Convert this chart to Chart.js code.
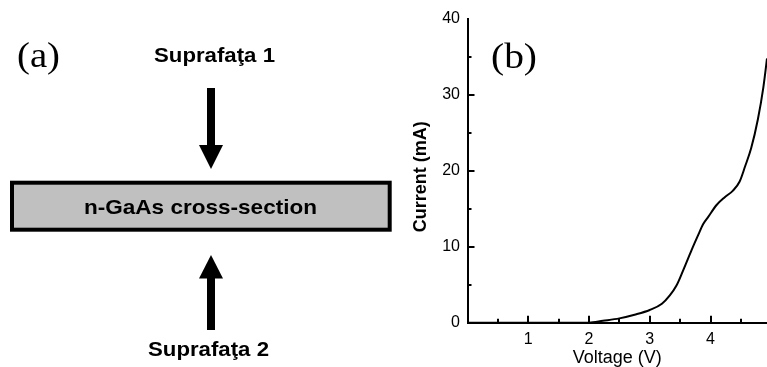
<!DOCTYPE html>
<html>
<head>
<meta charset="utf-8">
<script src="https://cdn.jsdelivr.net/npm/chart.js@4/dist/chart.umd.min.js"></script>
<style>
html,body{margin:0;padding:0;background:#fff;}
#wrap{position:relative;width:767px;height:367px;overflow:hidden;background:#fff;}
#chart{position:absolute;left:400px;top:0;}
#diagram{position:absolute;left:0;top:0;}
</style>
</head>
<body>
<div id="wrap">
  <canvas id="chart" width="367" height="367"></canvas>
  <svg id="diagram" width="767" height="367" xmlns="http://www.w3.org/2000/svg">
    <text x="17" y="67" font-family="Liberation Serif, Times New Roman, serif" font-size="36" fill="#000" textLength="43" lengthAdjust="spacingAndGlyphs">(a)</text>
    <text x="491" y="68" font-family="Liberation Serif, Times New Roman, serif" font-size="36" fill="#000" textLength="46" lengthAdjust="spacingAndGlyphs">(b)</text>
    <text x="154" y="61.5" font-family="Liberation Sans, Arial, sans-serif" font-weight="bold" font-size="21" fill="#000" textLength="121" lengthAdjust="spacingAndGlyphs">Suprafaţa 1</text>
    <rect x="207" y="88" width="8" height="58" fill="#000"/>
    <polygon points="199,145 223,145 211,169" fill="#000"/>
    <rect x="12" y="182.7" width="377.7" height="47" fill="#c0c0c0" stroke="#000" stroke-width="4"/>
    <text x="84" y="213.5" font-family="Liberation Sans, Arial, sans-serif" font-weight="bold" font-size="21" fill="#000" textLength="233" lengthAdjust="spacingAndGlyphs">n-GaAs cross-section</text>
    <polygon points="211,255 199,278.5 223,278.5" fill="#000"/>
    <rect x="207" y="278" width="8" height="52" fill="#000"/>
    <text x="148" y="355.5" font-family="Liberation Sans, Arial, sans-serif" font-weight="bold" font-size="21" fill="#000" textLength="121" lengthAdjust="spacingAndGlyphs">Suprafaţa 2</text>
  </svg>
</div>
<script>
// ---- data ----
const voltage = [0, 1, 2.0, 2.23, 2.5, 2.75, 3.0, 3.2, 3.33, 3.44, 3.55, 3.69, 3.8, 3.88, 3.96, 4.1, 4.23, 4.37, 4.48, 4.57, 4.67, 4.78, 4.87, 4.93, 4.97];
const current = [0, 0, 0, 0.25, 0.57, 1.05, 1.67, 2.5, 3.6, 4.9, 6.9, 9.6, 11.6, 13.0, 13.9, 15.5, 16.5, 17.4, 18.6, 20.6, 23.0, 26.8, 31.0, 34.8, 37.5];
const xTickValues = [1, 2, 3, 4];
const xMinorValues = [0.5, 1.5, 2.5, 3.5, 4.5];
const yTickValues = [0, 10, 20, 30, 40];
const yMinorValues = [5, 15, 25, 35];
const xTitle = 'Voltage (V)';
const yTitle = 'Current (mA)';
const xMax = 4.93;
const yMax = 40;

const FONT = 'Liberation Sans, Arial, sans-serif';

const inwardTicks = {
  id: 'inwardTicks',
  afterDraw(chart) {
    const {ctx, chartArea, scales: {x, y}} = chart;
    ctx.save();
    ctx.strokeStyle = '#000';
    ctx.lineWidth = 2;
    ctx.beginPath();
    const drawX = (v, len) => {
      const p = Math.round(x.getPixelForValue(v));
      ctx.moveTo(p, chartArea.bottom);
      ctx.lineTo(p, chartArea.bottom - len);
    };
    const drawY = (v, len) => {
      const p = Math.round(y.getPixelForValue(v));
      ctx.moveTo(chartArea.left, p);
      ctx.lineTo(chartArea.left + len, p);
    };
    xTickValues.forEach(v => drawX(v, 7));
    xMinorValues.forEach(v => drawX(v, 4));
    yTickValues.filter(v => v > 0 && v < yMax).forEach(v => drawY(v, 7));
    yMinorValues.forEach(v => drawY(v, 4));
    ctx.stroke();
    // y axis title, placed slightly below the axis centre as in the reference
    ctx.fillStyle = '#000';
    ctx.font = 'bold 18px ' + FONT;
    ctx.textAlign = 'center';
    ctx.textBaseline = 'middle';
    ctx.translate(21.5, (chartArea.top + chartArea.bottom) / 2 + 6);
    ctx.rotate(-Math.PI / 2);
    ctx.fillText(yTitle, 0, 0);
    ctx.restore();
  }
};

new Chart(document.getElementById('chart'), {
  type: 'line',
  data: {
    datasets: [{
      data: voltage.map((v, i) => ({x: v, y: current[i]})),
      borderColor: '#000',
      borderWidth: 2,
      pointRadius: 0,
      cubicInterpolationMode: 'monotone',
      fill: false
    }]
  },
  options: {
    responsive: false,
    animation: false,
    devicePixelRatio: 1,
    layout: {padding: {top: 19, right: 0, left: 0, bottom: 0}},
    plugins: {legend: {display: false}, tooltip: {enabled: false}},
    scales: {
      x: {
        type: 'linear', min: 0, max: xMax,
        afterBuildTicks: s => { s.ticks = xTickValues.map(v => ({value: v})); },
        afterFit: s => { s.height = 44.3; },
        grid: {display: true, drawOnChartArea: false, drawTicks: false},
        border: {display: true, color: '#000', width: 2},
        ticks: {color: '#000', font: {family: FONT, size: 16}, padding: 7, maxRotation: 0, autoSkip: false},
        title: {display: true, text: xTitle, color: '#000', font: {family: FONT, size: 18, lineHeight: 1}, padding: {top: 0, bottom: 0}}
      },
      y: {
        type: 'linear', min: 0, max: yMax,
        afterBuildTicks: s => { s.ticks = yTickValues.map(v => ({value: v})); },
        afterFit: s => { s.width = 67.5; },
        grid: {display: true, drawOnChartArea: false, drawTicks: false},
        border: {display: true, color: '#000', width: 2},
        ticks: {color: '#000', font: {family: FONT, size: 16}, padding: 7.5, autoSkip: false},
        title: {display: false, text: yTitle}
      }
    }
  },
  plugins: [inwardTicks]
});
</script>
</body>
</html>
